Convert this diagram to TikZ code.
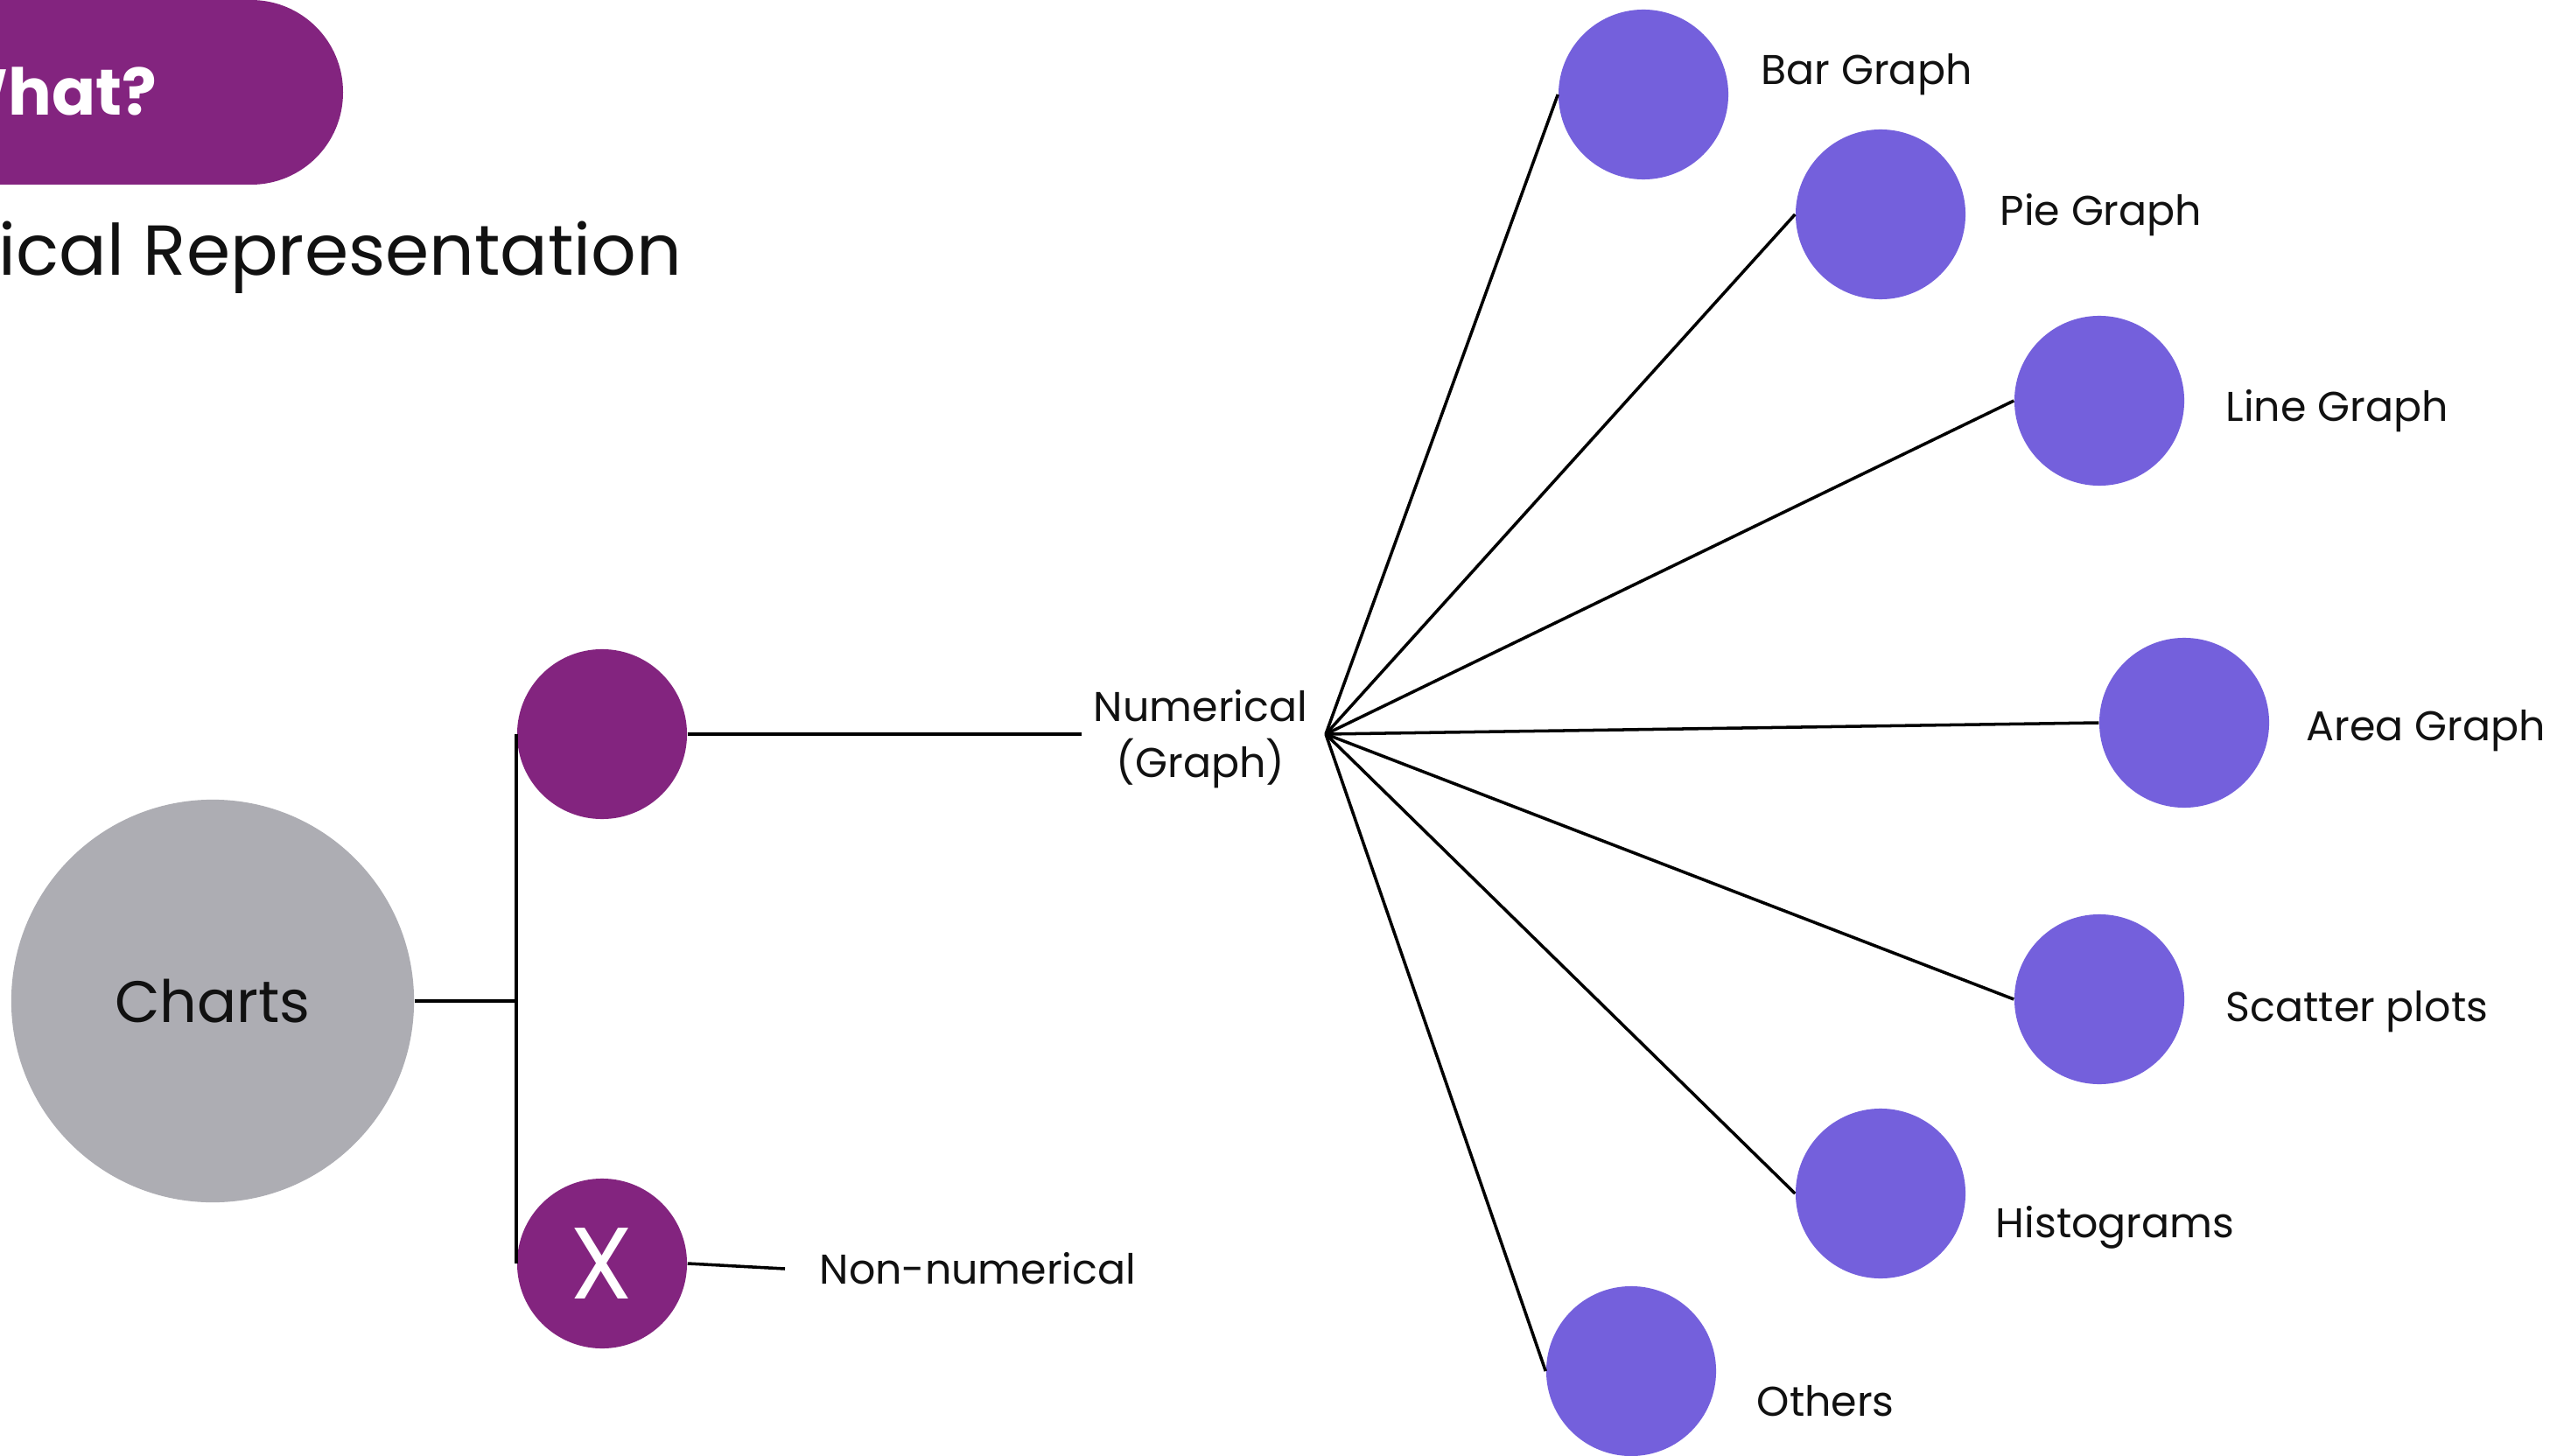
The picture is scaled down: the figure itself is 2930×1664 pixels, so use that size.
\documentclass[tikz,border=0pt]{standalone}
\usepackage{fontspec}
\setmainfont{Poppins}
\usepackage{xcolor}
\usepackage{tikz}
\definecolor{PlumBanner}{HTML}{83247F}
\definecolor{GraphBlue}{HTML}{7460DC}
\definecolor{ChartGray}{HTML}{ADADB3}
\definecolor{InkBlack}{HTML}{111111}

\begin{document}
\begin{tikzpicture}[x=0.01cm, y=-0.01cm,
  leaf/.style={circle, fill=GraphBlue, minimum size=1.94cm, inner sep=0pt},
  plumdot/.style={circle, fill=PlumBanner, minimum size=1.94cm, inner sep=0pt},
  leaflabel/.style={anchor=west, inner sep=0pt, text=InkBlack, font=\fontsize{13.5}{18.2}\selectfont},
  wire/.style={line width=1pt, black}]
  %
  \useasboundingbox (0,0) rectangle (2930,1664);
  \fill[white] (0,0) rectangle (2930,1664);
  \clip (0,0) rectangle (2930,1664);
  %
  % HEADER
  \fill[PlumBanner, rounded corners=1.05cm] (-300,0) rectangle (392,211);
  \node[anchor=base east, inner sep=0pt, text=white, font=\fontsize{21}{25}\selectfont\bfseries] (what) at (180,132) {What?};
  \node[anchor=base east, inner sep=0pt, text=InkBlack, font=\fontsize{23}{28}\selectfont] (title) at (780,315) {Graphical Representation};
  %
  % LEFT PART
  \node[circle, fill=ChartGray, minimum size=4.6cm, inner sep=0pt, text=InkBlack, font=\fontsize{19}{23}\selectfont] (charts) at (243,1144) {Charts};
  \node[plumdot] (num) at (688,839) {};
  \node[plumdot, text=white, font=\fontsize{33}{40}\selectfont] (non) at (688,1444) {X};
  \node[leaflabel, anchor=center, align=center, inner xsep=0.13cm] (numlbl) at (1372,845) {Numerical\\(Graph)};
  \node[leaflabel, inner xsep=0.39cm] (nonlbl) at (897,1450) {Non-numerical};
  \coordinate (hub) at (1515,839);
  %
  \draw[wire] (charts.east) -- (charts.east -| num.west);
  \draw[wire] (num.west) -- (non.west);
  \draw[wire] (num.east) -- (num.east -| numlbl.west);
  \draw[wire] (non.east) -- (nonlbl.west);
  %
  % GRAPH TYPES
  \node[leaf] (bar) at (1878,108) {};
  \node[leaflabel] (barlbl) at (2012,85) {Bar Graph};
  \node[leaf] (pie) at (2149,245) {};
  \node[leaflabel] (pielbl) at (2285,246) {Pie Graph};
  \node[leaf] (line) at (2399,458) {};
  \node[leaflabel] (linelbl) at (2543,470) {Line Graph};
  \node[leaf] (area) at (2496,826) {};
  \node[leaflabel] (arealbl) at (2635,835) {Area Graph};
  \node[leaf] (scatter) at (2399,1142) {};
  \node[leaflabel] (scatterlbl) at (2543,1156) {Scatter plots};
  \node[leaf] (histo) at (2149,1364) {};
  \node[leaflabel] (histolbl) at (2280,1403) {Histograms};
  \node[leaf] (others) at (1864,1567) {};
  \node[leaflabel] (otherslbl) at (2007,1601) {Others};
  %
  \draw[wire] (hub) -- (bar.west);
  \draw[wire] (hub) -- (pie.west);
  \draw[wire] (hub) -- (line.west);
  \draw[wire] (hub) -- (area.west);
  \draw[wire] (hub) -- (scatter.west);
  \draw[wire] (hub) -- (histo.west);
  \draw[wire] (hub) -- (others.west);
  %
\end{tikzpicture}
\end{document}
